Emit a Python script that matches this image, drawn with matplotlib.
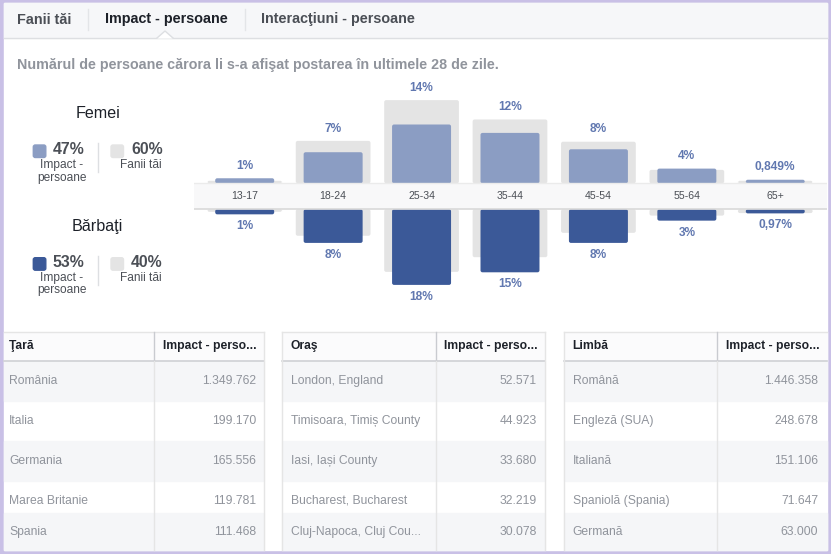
# Impact - persoane: distributie pe varsta / sex + tabele tara, oras, limba
import matplotlib
matplotlib.use("Agg")
import matplotlib.pyplot as plt
from matplotlib.patches import Rectangle, Polygon, FancyBboxPatch
import numpy as np

plt.rcParams['font.family'] = ['Liberation Sans', 'DejaVu Sans']

# --------------------------------------------
# date
# --------------------------------------------
tabs = ["Fanii tăi", "Impact - persoane", "Interacţiuni - persoane"]
subtitle = "Numărul de persoane cărora li s-a afişat postarea în ultimele 28 de zile."

age_groups = ["13-17", "18-24", "25-34", "35-44", "45-54", "55-64", "65+"]
women_impact = [1.2, 7.4, 14.0, 12.0, 8.1, 3.5, 0.849]
men_impact = [1.2, 8.0, 18.0, 15.0, 8.0, 2.7, 0.97]
women_fans = [0.6, 10.1, 19.8, 15.2, 9.9, 3.2, 0.6]
men_fans = [0.6, 6.3, 14.9, 11.4, 5.6, 1.5, 0.9]
women_labels = ["1%", "7%", "14%", "12%", "8%", "4%", "0,849%"]
men_labels = ["1%", "8%", "18%", "15%", "8%", "3%", "0,97%"]

gender_titles = ["Femei", "Bărbaţi"]
gender_impact = ["47%", "53%"]
gender_fans = ["60%", "40%"]

countries = ["România", "Italia", "Germania", "Marea Britanie", "Spania"]
country_values = [1349762, 199170, 165556, 119781, 111468]
cities = ["London, England", "Timisoara, Timiș County", "Iasi, Iași County",
          "Bucharest, Bucharest", "Cluj-Napoca, Cluj Cou..."]
city_values = [52571, 44923, 33680, 32219, 30078]
languages = ["Română", "Engleză (SUA)", "Italiană", "Spaniolă (Spania)", "Germană"]
language_values = [1446358, 248678, 151106, 71647, 63000]
table_headers = ["Ţară", "Oraş", "Limbă"]
value_header = "Impact - perso..."

# culori
PURPLE = '#c9c0e6'
LIGHT_BLUE = '#8b9dc3'
DARK_BLUE = '#3b5998'
FAN_GRAY = '#e4e4e4'
LABEL_BLUE = '#6178b0'
TXT_DARK = '#1d2129'
TXT_MID = '#4b4f56'
TXT_GRAY = '#90949c'
LINE = '#dddfe2'

W, H = 831, 554
PT = 0.72  # 1 px in puncte la dpi 100

fig = plt.figure(figsize=(W / 100, H / 100), dpi=100, facecolor=PURPLE)

# axa de fundal in pixeli
bg = fig.add_axes([0, 0, 1, 1])
bg.set_xlim(0, W)
bg.set_ylim(H, 0)
bg.axis('off')

bg.add_patch(Rectangle((3.5, 3), 823, 546.5, color='white', zorder=0))

# bara de taburi
bg.add_patch(Rectangle((3.5, 3), 823, 35, color='#f6f7f9', zorder=1))
bg.plot([3.5, 826.5], [38, 38], color=LINE, lw=1, zorder=2)
bg.add_patch(Polygon([(157, 38.6), (165, 31), (173, 38.6)], closed=True,
                     facecolor='white', edgecolor='none', zorder=3))
bg.plot([157, 165, 173], [38, 31, 38], color=LINE, lw=1, zorder=3)
tab_x = [17, 105, 261]
for i, t in enumerate(tabs):
    bg.text(tab_x[i], 19.5, t, fontsize=10.4, fontweight='bold', va='center', ha='left',
            color=TXT_DARK if i == 1 else TXT_MID, zorder=4)
for sx in [88, 245]:
    bg.plot([sx, sx], [9, 30], color='#e3e5e8', lw=1, zorder=2)

bg.text(17, 65, subtitle, fontsize=10.3, fontweight='bold', color=TXT_GRAY,
        va='center', ha='left')

# legenda femei / barbati
for i, title in enumerate(gender_titles):
    y0 = 114 + i * 112.7
    bg.text(97.7, y0, title, fontsize=11.6, color=TXT_DARK, ha='center', va='center')
    for sq_x, col, pct, pct_x, lines, lab_x in [
            (33.3, LIGHT_BLUE if i == 0 else DARK_BLUE, gender_impact[i], 52.7,
             ["Impact -", "persoane"], 62),
            (111, FAN_GRAY, gender_fans[i], 131, ["Fanii tăi"], 140.5)]:
        bg.add_patch(FancyBboxPatch((sq_x, y0 + 31), 12.5, 12.5,
                                    boxstyle="round,pad=0,rounding_size=2",
                                    color=col, zorder=2))
        bg.text(pct_x, y0 + 36, pct, fontsize=11.4, fontweight='bold', color=TXT_MID,
                ha='left', va='center')
        for k, ln in enumerate(lines):
            bg.text(lab_x, y0 + 51 + 12.7 * k, ln, fontsize=8.6, color=TXT_MID,
                    ha='center', va='center')
    bg.plot([98.3, 98.3], [y0 + 29, y0 + 58], color=LINE, lw=1)

# --------------------------------------------
# grafic pe varste
# --------------------------------------------
px_per_pct = 4.2
band_center = 196.3
gap = 13 / px_per_pct
y_lo, y_hi = -32, 28
x_first, x_step = 244.7, 88.43
ax_left_px, ax_right_px = 194, 826.5
x_lo = (ax_left_px - x_first) / x_step
x_hi = (ax_right_px - x_first) / x_step
top_px = band_center - y_hi * px_per_pct
bot_px = band_center - y_lo * px_per_pct

ax = fig.add_axes([ax_left_px / W, 1 - bot_px / H,
                   (ax_right_px - ax_left_px) / W, (bot_px - top_px) / H])
ax.set_xlim(x_lo, x_hi)
ax.set_ylim(y_lo, y_hi)
ax.axis('off')
ax.patch.set_alpha(0)


def round_bars(bars, color, z):
    # inlocuieste dreptunghiurile cu colturi rotunjite (~2 px)
    for r in bars.patches:
        x0, y0 = r.get_x(), r.get_y()
        w, h = r.get_width(), r.get_height()
        if h < 0:
            y0, h = y0 + h, -h
        ax.add_patch(FancyBboxPatch((x0, y0), w, h,
                                    boxstyle="round,pad=0,rounding_size=%f" % (2 / x_step),
                                    mutation_aspect=x_step / px_per_pct,
                                    color=color, lw=0, zorder=z))
        r.remove()


x = np.arange(len(age_groups))
round_bars(ax.bar(x, women_fans, bottom=gap, width=0.845), FAN_GRAY, 1)
round_bars(ax.bar(x, -np.array(men_fans), bottom=-gap, width=0.845), FAN_GRAY, 1)
round_bars(ax.bar(x, women_impact, bottom=gap, width=0.667), LIGHT_BLUE, 2)
round_bars(ax.bar(x, -np.array(men_impact), bottom=-gap, width=0.667), DARK_BLUE, 2)

# banda cu grupele de varsta
ax.axhspan(-gap, gap, facecolor='#f8f8f9', edgecolor='none', zorder=4)
ax.axhline(gap, color='#ebebeb', lw=1, zorder=5)
ax.axhline(-gap, color='#d9d9d9', lw=1.2, zorder=5)
for i, age in enumerate(age_groups):
    ax.text(i, 0, age, ha='center', va='center', fontsize=7.6, color=TXT_MID, zorder=6)

for i in range(len(age_groups)):
    top = gap + max(women_impact[i], women_fans[i])
    bot = -gap - max(men_impact[i], men_fans[i])
    ax.annotate(women_labels[i], (i, top), xytext=(0, 12.3 * PT), textcoords='offset points',
                ha='center', va='center', fontsize=8.6, fontweight='bold', color=LABEL_BLUE)
    ax.annotate(men_labels[i], (i, bot), xytext=(0, -12 * PT), textcoords='offset points',
                ha='center', va='center', fontsize=8.6, fontweight='bold', color=LABEL_BLUE)

# --------------------------------------------
# tabele
# --------------------------------------------
row_edges = [360.7, 400.7, 441, 481, 513, 549.5]
row_text_y = [381, 420.7, 460.7, 500.7, 532.3]
header_top, header_bot = 331.7, 360.7


def fmt(v):
    return f"{v:,}".replace(",", ".")


def draw_table(x0, x_sep, x1, title, names, values):
    text_x = x0 + 5.8 if x0 < 10 else x0 + 9
    bg.add_patch(Rectangle((x0, header_top), x1 - x0, header_bot - header_top,
                           color='#fbfbfc', zorder=1))
    for r in range(len(names)):
        if r % 2 == 0:
            bg.add_patch(Rectangle((x0, row_edges[r]), x1 - x0,
                                   row_edges[r + 1] - row_edges[r],
                                   color='#f5f6f8', zorder=1))
        bg.text(text_x, row_text_y[r], names[r],
                fontsize=8.7, color=TXT_GRAY, ha='left', va='center', zorder=3)
        bg.text(x1 - 8.3, row_text_y[r], fmt(values[r]), fontsize=8.7, color=TXT_GRAY,
                ha='right', va='center', zorder=3)
    bg.text(text_x, 346, title, fontsize=8.7, fontweight='bold',
            color=TXT_DARK, ha='left', va='center', zorder=3)
    bg.text(x_sep + 8.5, 346, value_header, fontsize=8.7, fontweight='bold',
            color=TXT_DARK, ha='left', va='center', zorder=3)
    bg.plot([x0, x1], [header_top, header_top], color='#e5e5e5', lw=1, zorder=2)
    bg.plot([x0, x1], [header_bot, header_bot], color='#cfd1d5', lw=1.2, zorder=2)
    bg.plot([x_sep, x_sep], [header_top, header_bot], color='#c9cbd0', lw=1, zorder=2)
    bg.plot([x_sep, x_sep], [header_bot, 549.5], color='#e5e5e5', lw=1, zorder=2)
    for ex in [x0, x1]:
        if 5 < ex < 825:
            bg.plot([ex, ex], [header_top, 549.5], color='#e5e5e5', lw=1, zorder=2)


draw_table(3.5, 154.3, 264.3, table_headers[0], countries, country_values)
draw_table(281.7, 435.7, 545.3, table_headers[1], cities, city_values)
draw_table(563.7, 717.3, 826.5, table_headers[2], languages, language_values)

fig.savefig("out.png", dpi=100, facecolor=PURPLE)
